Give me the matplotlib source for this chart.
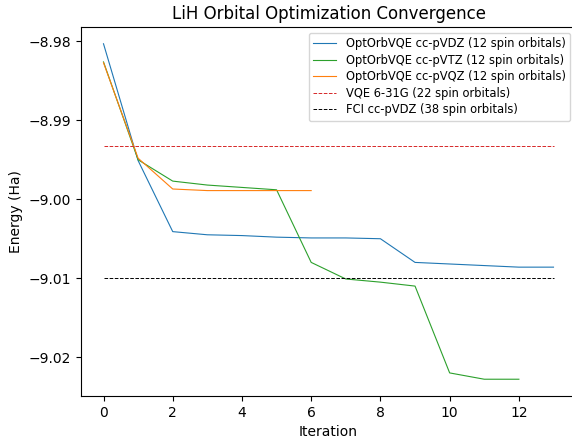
import matplotlib.pyplot as plt

# Energias por iteracao (Ha)
e_vdz = [-8.9803, -8.9951, -9.0041, -9.0045, -9.0046, -9.0048, -9.0049, -9.0049,
         -9.0050, -9.0080, -9.0082, -9.0084, -9.0086, -9.0086]
e_vtz = [-8.9826, -8.9950, -8.9977, -8.9982, -8.9985, -8.9988, -9.0080, -9.0101,
         -9.0105, -9.0110, -9.0220, -9.0228, -9.0228]
e_vqz = [-8.9827, -8.9948, -8.9987, -8.9989, -8.9989, -8.9989, -8.9989]
e_vqe_631g = -8.9933
e_fci_vdz = -9.0100
n_iter = 14

fig = plt.figure(figsize=(5.72, 4.38), dpi=100)
ax = fig.add_axes([81 / 572, 1 - 396 / 438, 495 / 572, 369 / 438])

ax.plot(range(len(e_vdz)), e_vdz, color='tab:blue', linewidth=0.8, label='OptOrbVQE cc-pVDZ (12 spin orbitals)')
ax.plot(range(len(e_vtz)), e_vtz, color='tab:green', linewidth=0.8, label='OptOrbVQE cc-pVTZ (12 spin orbitals)')
ax.plot(range(len(e_vqz)), e_vqz, color='tab:orange', linewidth=0.8, label='OptOrbVQE cc-pVQZ (12 spin orbitals)')
ax.hlines(e_vqe_631g, 0, n_iter - 1, colors='tab:red', linestyles='--', linewidth=0.7, label='VQE 6-31G (22 spin orbitals)')
ax.hlines(e_fci_vdz, 0, n_iter - 1, colors='black', linestyles='--', linewidth=0.7, label='FCI cc-pVDZ (38 spin orbitals)')

ax.set_xlabel('Iteration')
ax.set_ylabel('Energy (Ha)')
ax.set_title('LiH Orbital Optimization Convergence')
ax.set_yticks([-8.98, -8.99, -9.00, -9.01, -9.02])
ax.legend(fontsize=8.3, labelspacing=0.3)

plt.savefig('out.png', dpi=100)
